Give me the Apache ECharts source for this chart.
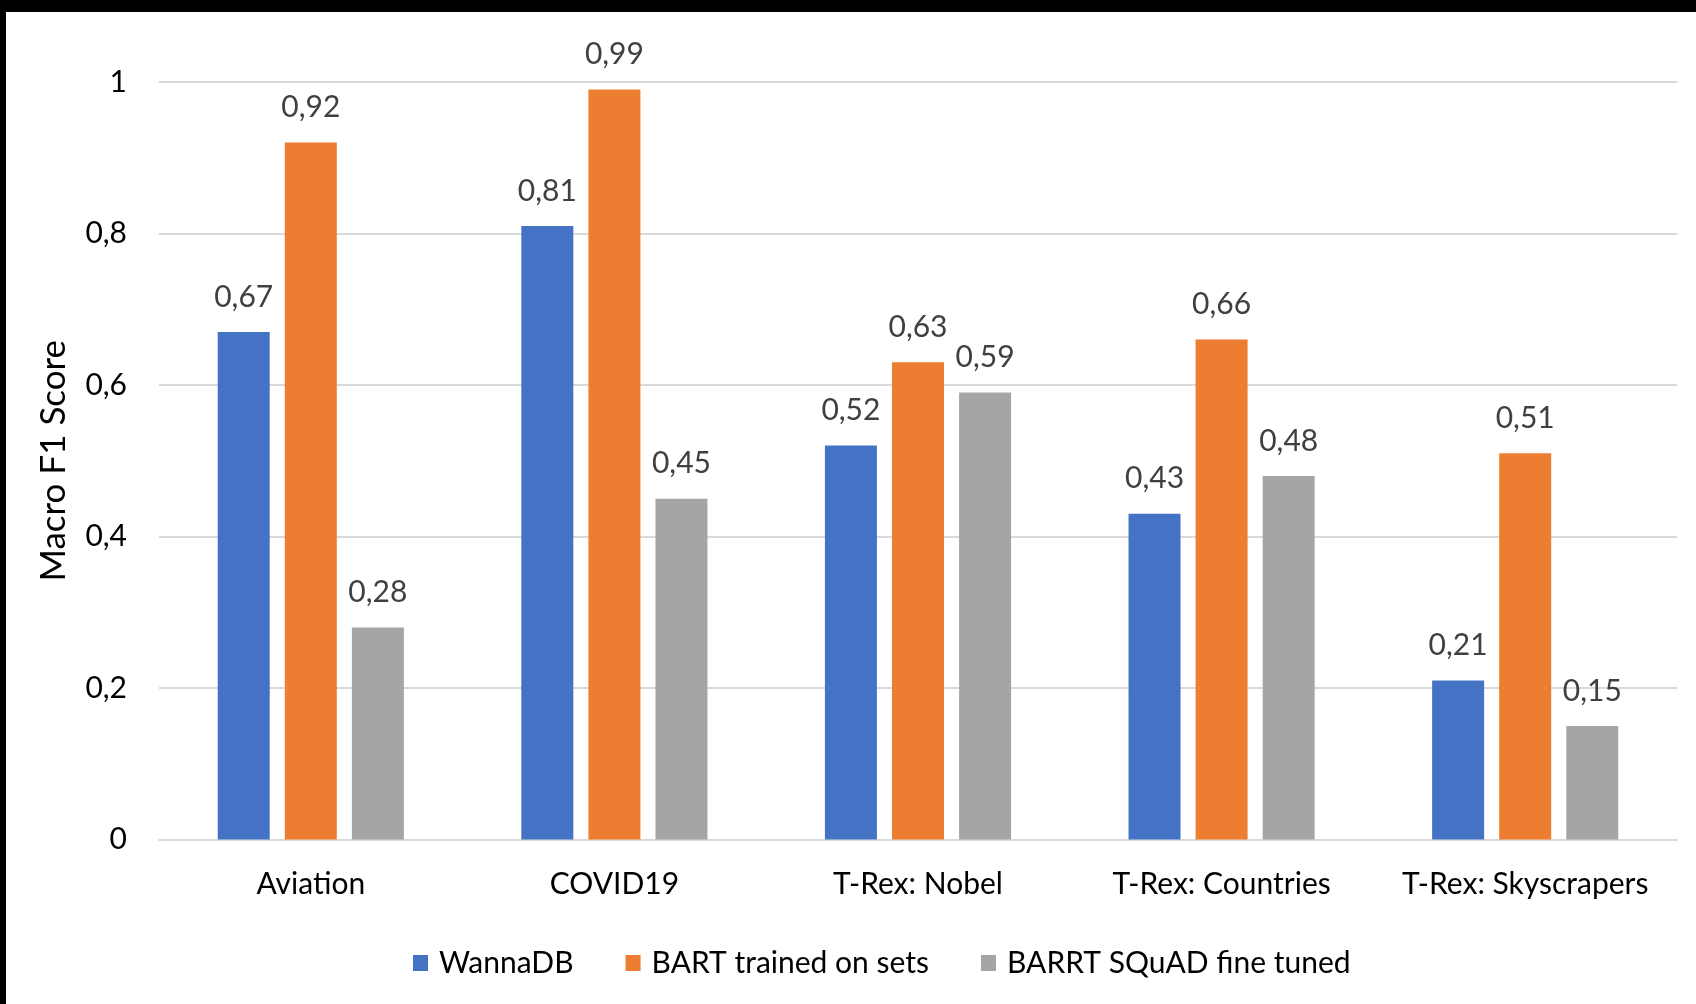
<!DOCTYPE html>
<html>
<head>
<meta charset="utf-8">
<script src="https://cdn.jsdelivr.net/npm/echarts@6/dist/echarts.min.js"></script>
<style>
  html, body { margin: 0; padding: 0; background: #fff; }
  #chart { width: 1696px; height: 1004px; }
</style>
</head>
<body>
<div id="chart"></div>
<script>
// Datasets on the x axis
const categories = ['Aviation', 'COVID19', 'T-Rex: Nobel', 'T-Rex: Countries', 'T-Rex: Skyscrapers'];

// Macro F1 per approach
const wannaDB = [0.67, 0.81, 0.52, 0.43, 0.21];
const bartSets = [0.92, 0.99, 0.63, 0.66, 0.51];
const bartSquad = [0.28, 0.45, 0.59, 0.48, 0.15];

const seriesNames = ['WannaDB', 'BART trained on sets', 'BARRT SQuAD fine tuned'];
const yTicks = [0, 0.2, 0.4, 0.6, 0.8, 1];

const FONT = 'Lato, "Open Sans", sans-serif';
const fmt = v => String(+v.toFixed(2)).replace('.', ',');

const chart = echarts.init(document.getElementById('chart'), null, { renderer: 'canvas' });

function barSeries(name, data, color) {
  return {
    name: name,
    type: 'bar',
    data: data,
    barWidth: 52,
    barGap: '29%',
    itemStyle: { color: color },
    label: {
      show: true,
      position: 'top',
      distance: 20,
      color: '#404040',
      fontFamily: FONT,
      fontSize: 30,
      formatter: p => fmt(p.value)
    }
  };
}

chart.setOption({
  backgroundColor: '#ffffff',
  animation: false,
  graphic: [
    { type: 'rect', left: 0, top: 0, shape: { width: 1696, height: 12 }, style: { fill: '#000' }, z: 100 },
    { type: 'rect', left: 0, top: 0, shape: { width: 6, height: 1004 }, style: { fill: '#000' }, z: 100 }
  ],
  grid: { left: 159, right: 19, top: 82, bottom: 164.5, containLabel: false },
  legend: {
    data: seriesNames,
    bottom: 21,
    left: 408,
    icon: 'rect',
    itemWidth: 15,
    itemHeight: 16,
    itemGap: 52,
    textStyle: { fontFamily: FONT, fontSize: 30, color: '#000', padding: [0, 0, 0, 6] }
  },
  xAxis: {
    type: 'category',
    data: categories,
    axisLine: { show: true, lineStyle: { color: '#d9d9d9', width: 2 } },
    axisTick: { show: false },
    axisLabel: { interval: 0, fontFamily: FONT, fontSize: 30, color: '#000', margin: 30 }
  },
  yAxis: {
    type: 'value',
    min: 0,
    max: 1,
    interval: 0.2,
    name: 'Macro F1 Score',
    nameLocation: 'middle',
    nameGap: 88,
    nameRotate: 90,
    nameTextStyle: { fontFamily: FONT, fontSize: 35, color: '#000' },
    axisLine: { show: false },
    axisTick: { show: false },
    splitLine: { lineStyle: { color: '#d9d9d9', width: 2 } },
    axisLabel: {
      fontFamily: FONT, fontSize: 30, color: '#000', margin: 32,
      formatter: v => yTicks.includes(+v.toFixed(1)) ? fmt(v) : ''
    }
  },
  series: [
    barSeries(seriesNames[0], wannaDB, '#4472c4'),
    barSeries(seriesNames[1], bartSets, '#ed7d31'),
    barSeries(seriesNames[2], bartSquad, '#a5a5a5')
  ]
});
</script>
</body>
</html>
